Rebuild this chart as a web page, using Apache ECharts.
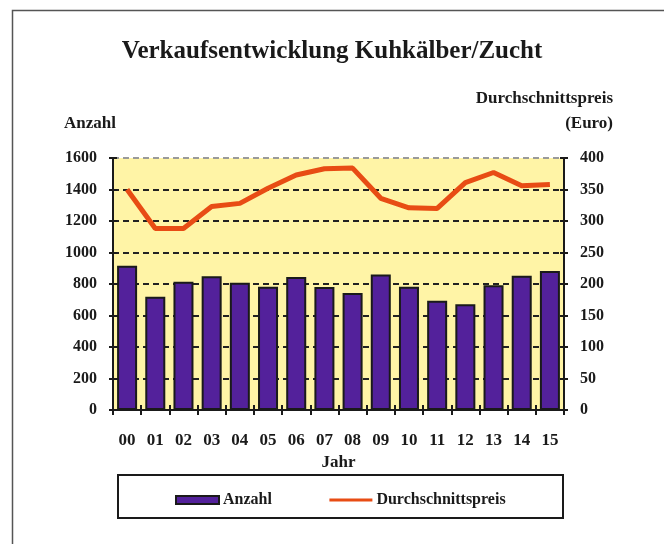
<!DOCTYPE html>
<html>
<head>
<meta charset="utf-8">
<script src="https://cdn.jsdelivr.net/npm/echarts@6/dist/echarts.min.js"></script>
<style>
  html, body { margin: 0; padding: 0; background: #fff; }
  #main-chart { width: 664px; height: 544px; }
</style>
</head>
<body>
<div id="main-chart"></div>
<script>
const years = ["00", "01", "02", "03", "04", "05", "06", "07", "08", "09", "10", "11", "12", "13", "14", "15"];
const anzahl = [916, 719, 815, 849, 808, 783, 844, 781, 743, 861, 783, 694, 671, 792, 853, 883];
const preis = [350, 288, 288, 323, 328, 352, 373, 383, 384, 336, 321, 320, 361, 377, 356, 358];
const leftTicks = [0, 1600, 200];
const rightTicks = [0, 400, 50];

const serif = "'Liberation Serif', 'Times New Roman', serif";
const dark = "#1a1a1a";

const chart = echarts.init(document.getElementById("main-chart"));

// split lines: black dashes, the top one (1600) grey
const splitColors = ["#222", "#222", "#222", "#222", "#222", "#222", "#222", "#222", "#9a9a9a"];

function valueAxis(pos, ticks, main) {
  return {
    type: "value",
    position: pos,
    min: ticks[0],
    max: ticks[1],
    interval: ticks[2],
    axisLine: { show: main, lineStyle: { color: dark, width: 2 } },
    axisTick: { show: true, inside: !main, length: 4, lineStyle: { color: dark, width: 2 } },
    axisLabel: {
      show: main,
      margin: 16,
      color: dark,
      fontFamily: serif,
      fontWeight: "bold",
      fontSize: 16,
      formatter: (v) => String(v)
    },
    splitLine: {
      show: main && pos === "left",
      lineStyle: { color: splitColors, width: 2, type: [6, 4] }
    }
  };
}

chart.setOption({
  animation: false,
  textStyle: { fontFamily: serif },
  graphic: [
    {
      type: "rect",
      shape: { x: 12.5, y: 10.5, width: 700, height: 600 },
      style: { fill: "none", stroke: "#555", lineWidth: 1.5 },
      silent: true
    },
    {
      type: "rect",
      shape: { x: 118, y: 475, width: 445, height: 43 },
      style: { fill: "#fff", stroke: dark, lineWidth: 2 },
      z: 0,
      silent: true
    },
    {
      type: "text",
      left: 64,
      top: 115,
      style: { text: "Anzahl", font: "bold 17px " + serif, fill: dark }
    },
    {
      type: "text",
      right: 51,
      top: 90,
      style: { text: "Durchschnittspreis", font: "bold 17px " + serif, fill: dark }
    },
    {
      type: "text",
      right: 51,
      top: 115,
      style: { text: "(Euro)", font: "bold 17px " + serif, fill: dark }
    }
  ],
  title: {
    text: "Verkaufsentwicklung Kuhkälber/Zucht",
    left: "center",
    top: 34,
    textStyle: { fontFamily: serif, fontWeight: "bold", fontSize: 25, color: dark }
  },
  legend: {
    bottom: 31,
    left: 170,
    itemGap: 56,
    itemWidth: 43,
    itemHeight: 8,
    textStyle: { fontFamily: serif, fontWeight: "bold", fontSize: 16, color: dark, padding: [0, 0, 0, -1] },
    lineStyle: { width: 3 },
    data: [
      { name: "Anzahl", icon: "rect" },
      { name: "Durchschnittspreis", itemStyle: { color: "rgba(0,0,0,0)", borderWidth: 0, opacity: 0 } }
    ]
  },
  grid: {
    left: 113,
    right: 100,
    top: 158,
    bottom: 134,
    show: true,
    backgroundColor: "#fff4a6",
    borderWidth: 0
  },
  xAxis: [
    {
      type: "category",
      data: years,
      name: "Jahr",
      nameLocation: "middle",
      nameGap: 44,
      nameTextStyle: { fontFamily: serif, fontWeight: "bold", fontSize: 17, color: dark },
      axisLine: { lineStyle: { color: dark, width: 2 } },
      axisTick: { show: true, length: 5, lineStyle: { color: dark, width: 2 } },
      axisLabel: { margin: 22, color: dark, fontFamily: serif, fontWeight: "bold", fontSize: 17 }
    },
    {
      type: "category",
      data: years,
      position: "bottom",
      axisLine: { show: false },
      axisTick: { show: true, inside: true, length: 5, lineStyle: { color: dark, width: 2 } },
      axisLabel: { show: false }
    }
  ],
  yAxis: [
    valueAxis("left", leftTicks, true),
    valueAxis("right", rightTicks, true),
    valueAxis("left", leftTicks, false),
    valueAxis("right", rightTicks, false)
  ],
  series: [
    {
      name: "Anzahl",
      type: "bar",
      data: anzahl,
      barCategoryGap: "29%",
      itemStyle: { color: "#53219b", borderColor: dark, borderWidth: 2 },
      z: 2
    },
    {
      name: "Durchschnittspreis",
      type: "line",
      yAxisIndex: 1,
      data: preis,
      symbol: "none",
      lineStyle: { color: "#e84c14", width: 5 },
      itemStyle: { color: "#e84c14" },
      z: 3
    }
  ]
});
</script>
</body>
</html>
